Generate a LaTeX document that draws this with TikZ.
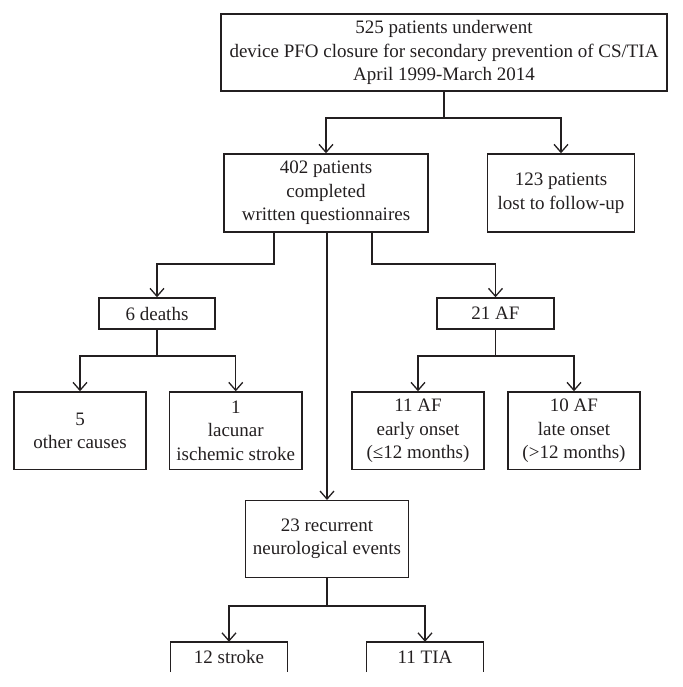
\documentclass[tikz,border=0pt]{standalone}
\usepackage{fontspec}
\setmainfont{Liberation Serif}
\usetikzlibrary{arrows.meta}
\definecolor{linec}{HTML}{231F20}
\definecolor{textc}{HTML}{231F20}
\begin{document}
\begin{tikzpicture}[x=1pt,y=-1pt,
  txt/.style={inner sep=0pt, align=center, text=textc, font=\fontsize{19}{23.5}\selectfont},
  box/.style={txt, draw=linec, line width=1.4pt},
  openbox/.style={txt},
  boxline/.style={draw=linec, line width=1.4pt},
  conn/.style={draw=linec, line width=1.3pt},
  arr/.style={conn, -{Straight Barb[length=8pt,width=14pt,line width=1.3pt]}}
]
\useasboundingbox (0,0) rectangle (682,687);

% nodes
\node[box, minimum width=446pt, minimum height=77pt] (top) at (444,52.5)
  {525 patients underwent\\device PFO closure for secondary prevention of CS/TIA\\April 1999-March 2014};
\node[box, minimum width=204pt, minimum height=78pt] (q) at (326,193)
  {402 patients\\completed\\written questionnaires};
\node[box, minimum width=147pt, minimum height=78pt] (lost) at (561,193)
  {123 patients\\lost to follow-up};
\node[box, minimum width=116pt, minimum height=31pt] (deaths) at (157,313.5) {6 deaths};
\node[box, minimum width=117pt, minimum height=31pt] (af) at (495.5,313.5) {21 AF};
\node[box, minimum width=132pt, minimum height=77.5pt] (other) at (80,430.75) {5\\other causes};
\node[box, minimum width=132.5pt, minimum height=77.5pt] (lac) at (235.75,430.75) {1\\lacunar\\ischemic stroke};
\node[box, minimum width=132pt, minimum height=77.5pt] (early) at (418,430.75) {11 AF\\early onset\\(≤12 months)};
\node[box, minimum width=132pt, minimum height=77.5pt] (late) at (574,430.75) {10 AF\\late onset\\(>12 months)};
\node[box, minimum width=162.6pt, minimum height=76.6pt] (ne) at (327,539) {23 recurrent\\neurological events};
\node[openbox, minimum width=116.6pt, minimum height=30pt] (stroke) at (229,657) {12 stroke};
\node[openbox, minimum width=116.6pt, minimum height=30pt] (tia) at (425,657) {11 TIA};

% open-bottom boxes (cut at the lower edge)
\draw[boxline] (stroke.south west) -- (stroke.north west) -- (stroke.north east) -- (stroke.south east);
\draw[boxline] (tia.south west) -- (tia.north west) -- (tia.north east) -- (tia.south east);

% connectors
\coordinate (j1) at (444,118);
\draw[conn] (top.south) -- (j1);
\draw[arr] (j1) -| (q.north);
\draw[arr] (j1) -| (lost.north);

\coordinate (xl) at (274,264);
\coordinate (xr) at (372,264);
\draw[arr] (q.south -| xl) -- (xl) -| (deaths.north);
\draw[arr] (q.south -| xr) -- (xr) -| (af.north);
\draw[arr] (q.south -| ne.north) -- (ne.north);

\coordinate (d1) at (157,356);
\draw[conn] (deaths.south) -- (d1);
\draw[arr] (d1) -| (other.north);
\draw[arr] (d1) -| (lac.north);

\coordinate (a1) at (495.5,356);
\draw[conn] (af.south) -- (a1);
\draw[arr] (a1) -| (early.north);
\draw[arr] (a1) -| (late.north);

\coordinate (n1) at (327,606);
\draw[conn] (ne.south) -- (n1);
\draw[arr] (n1) -| (stroke.north);
\draw[arr] (n1) -| (tia.north);
\end{tikzpicture}
\end{document}
